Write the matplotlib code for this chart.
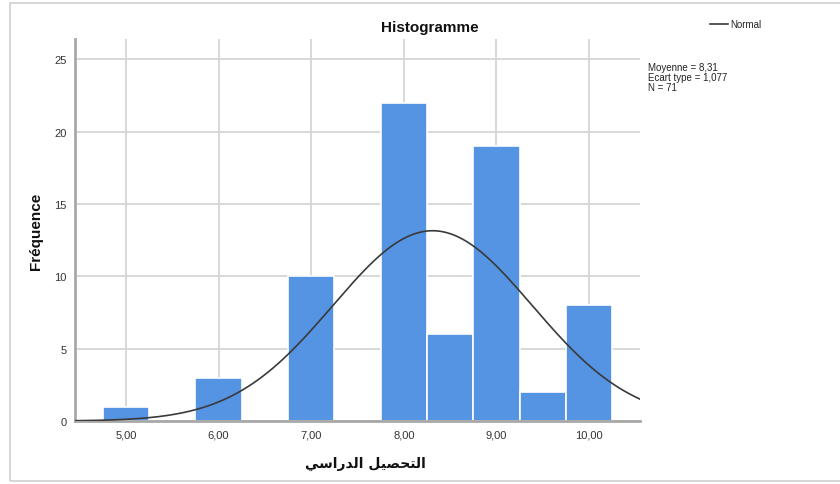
import numpy as np
import matplotlib
matplotlib.use("Agg")
import matplotlib.pyplot as plt
from matplotlib.patches import Rectangle

# Data
bin_centers = [5.0, 6.0, 7.0, 8.0, 8.5, 9.0, 9.5, 10.0]
counts = [1, 3, 10, 22, 6, 19, 2, 8]
bin_width = 0.5
mean_val = 8.31
std_val = 1.077
n_val = 71
xtick_vals = [5, 6, 7, 8, 9, 10]
xtick_labels = ["5,00", "6,00", "7,00", "8,00", "9,00", "10,00"]
ytick_vals = [0, 5, 10, 15, 20, 25]

# Arabic label "التحصيل الدراسي" in presentation forms, visual order
logical = "\uFE8D\uFEDF\uFE98\uFEA4\uFEBC\uFEF4\uFEDE \uFE8D\uFEDF\uFEAA\uFEAD\uFE8D\uFEB3\uFEF2"
xlabel_ar = logical[::-1]

plt.rcParams['font.family'] = ['Liberation Sans', 'DejaVu Sans']

W, H = 840, 485
fig = plt.figure(figsize=(W/100, H/100), dpi=100)
fig.patch.set_facecolor("white")

# outer border
fig.add_artist(Rectangle((10/W, 1 - 482/H), (845-10)/W, (482-4)/H,
                         transform=fig.transFigure, fill=False,
                         edgecolor="#cfcfcf", linewidth=1.2))

ax_l, ax_r, ax_t, ax_b = 75, 640, 40, 422
ax = fig.add_axes([ax_l/W, 1 - ax_b/H, (ax_r-ax_l)/W, (ax_b-ax_t)/H])

grid_c = "#d6d6d6"
ax.set_axisbelow(True)
ax.grid(True, color=grid_c, linewidth=1.3)

ax.bar(bin_centers, counts, width=bin_width, color="#5593E3",
       edgecolor="white", linewidth=1.2, zorder=2)

xs = np.linspace(4.45, 10.55, 400)
ys = n_val * bin_width / (std_val * np.sqrt(2*np.pi)) * np.exp(-0.5*((xs-mean_val)/std_val)**2)
ax.plot(xs, ys, color="#3a3a3a", linewidth=1.2, zorder=3, label="Normal")

ax.set_xlim(4.45, 10.55)
ax.set_ylim(0, 26.4)
ax.set_xticks(xtick_vals)
ax.set_xticklabels(xtick_labels)
ax.set_yticks(ytick_vals)
ax.tick_params(length=0, labelsize=8, colors="#333333", pad=6)

for s in ["top", "right"]:
    ax.spines[s].set_visible(False)
for s in ["left", "bottom"]:
    ax.spines[s].set_color("#a8a8a8")
    ax.spines[s].set_linewidth(2)

fig.text(430/W, 1 - 28/H, "Histogramme", ha="center", va="center",
         fontsize=11, fontweight="bold", color="#111111")
fig.text(36/W, 1 - 231/H, "Fréquence", ha="center", va="center",
         rotation=90, fontsize=11, fontweight="bold", color="#111111")
fig.text(365/W, 1 - 464/H, xlabel_ar, ha="center", va="center",
         fontsize=10, fontweight="bold", color="#111111",
         family=["DejaVu Sans"])

# legend
fig.add_artist(plt.Line2D([710/W, 728/W], [1 - 25/H, 1 - 25/H],
                          transform=fig.transFigure, color="#3a3a3a", linewidth=1.2))
fig.text(730/W, 1 - 25/H, "Normal", ha="left", va="center", fontsize=7, color="#222222")

fig.text(648/W, 1 - 78/H,
         "Moyenne = 8,31\nEcart type = 1,077\nN = 71".replace("8,31", f"{mean_val:.2f}".replace(".", ","))
         .replace("1,077", f"{std_val:.3f}".replace(".", ",")).replace("N = 71", f"N = {n_val}"),
         ha="left", va="center", fontsize=7, color="#222222", linespacing=1.0)

fig.savefig("out.png", dpi=100)
